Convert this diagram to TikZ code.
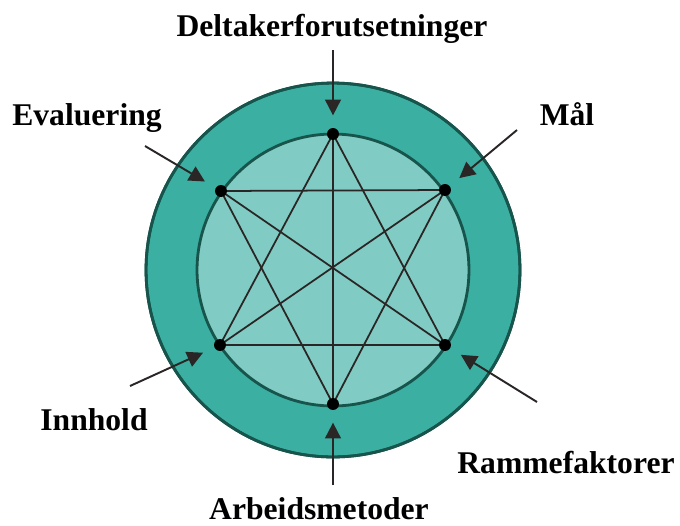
\documentclass[tikz,border=0pt]{standalone}
\usepackage{fontspec}
\setmainfont{Liberation Serif}
\usepackage{xcolor}
\usepackage{tikz}
\usetikzlibrary{positioning, arrows.meta}

\definecolor{ringteal}{HTML}{3BAFA2}
\definecolor{discteal}{HTML}{80CBC3}
\definecolor{rimdark}{HTML}{17544C}
\definecolor{linkgrey}{HTML}{2A2626}

\begin{document}
\begin{tikzpicture}[
  x=0.02cm, y=-0.02cm,
  ring/.style={fill=ringteal, draw=rimdark, line width=1.6pt},
  disc/.style={fill=discteal, draw=rimdark, line width=1.6pt},
  link/.style={draw=linkgrey, line width=1pt},
  dot/.style={circle, fill=black, inner sep=0pt, minimum size=6.8pt},
  lbl/.style={font=\fontsize{18}{20}\selectfont\bfseries, inner sep=0pt, anchor=base},
  arrow/.style={-{Triangle[length=9pt, width=9pt]}, linkgrey, line width=1.1pt, shorten >=7pt}
]
\useasboundingbox (0,0) rectangle (680,525);

\coordinate (mid) at (333,270);
\fill[ring] (mid) circle[radius=3.74cm];
\fill[disc] (mid) circle[radius=2.72cm];
\draw[ring, fill=none] (mid) circle[radius=3.74cm];

\coordinate (pT)  at (333,134);
\coordinate (pUR) at (445,190);
\coordinate (pLR) at (445,345);
\coordinate (pB)  at (333,404);
\coordinate (pLL) at (220,345);
\coordinate (pUL) at (221,191);

\draw[link] (pT) -- (pLL) -- (pLR) -- cycle;
\draw[link] (pB) -- (pUL) -- (pUR) -- cycle;
\draw[link] (pT) -- (pB);
\draw[link] (pUL) -- (pLR);
\draw[link] (pUR) -- (pLL);

\node[dot] (dT)  at (pT)  {};
\node[dot] (dUR) at (pUR) {};
\node[dot] (dLR) at (pLR) {};
\node[dot] (dB)  at (pB)  {};
\node[dot] (dLL) at (pLL) {};
\node[dot] (dUL) at (pUL) {};

\node[lbl] (deltaker) at (332,36)  {Deltakerforutsetninger};
\node[lbl] (maal)     at (567,125) {Mål};
\node[lbl] (ramme)    at (566,473) {Rammefaktorer};
\node[lbl] (arbeid)   at (319,519) {Arbeidsmetoder};
\node[lbl] (innhold)  at (94,430)  {Innhold};
\node[lbl] (eval)     at (87,125)  {Evaluering};

\coordinate (tT)  at (333,50);
\coordinate (tUR) at (517,130);
\coordinate (tLR) at (537,402);
\coordinate (tB)  at (333,485);
\coordinate (tLL) at (130,386);
\coordinate (tUL) at (145,146);

\draw[arrow] (tT)  -- (dT);
\draw[arrow] (tUR) -- (dUR);
\draw[arrow] (tLR) -- (dLR);
\draw[arrow] (tB)  -- (dB);
\draw[arrow] (tLL) -- (dLL);
\draw[arrow] (tUL) -- (dUL);
\end{tikzpicture}
\end{document}
